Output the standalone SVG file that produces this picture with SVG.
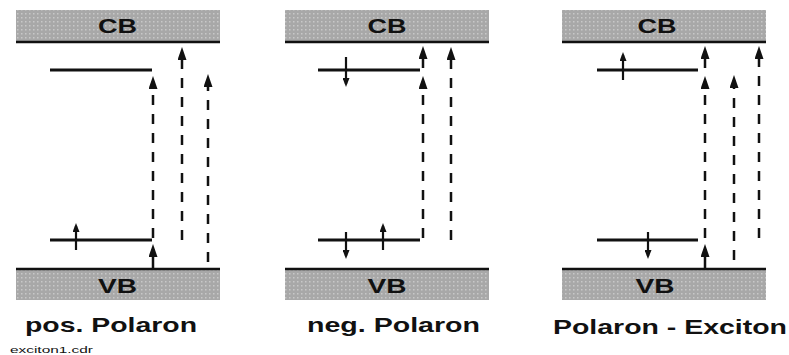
<svg xmlns="http://www.w3.org/2000/svg" width="789" height="355" viewBox="0 0 789 355">
<style>
.band{fill:url(#dots)}
.edge{stroke:#111;stroke-width:2.5}
.lvl{stroke:#111;stroke-width:3;fill:none}
.dash{stroke:#111;stroke-width:2.5;stroke-dasharray:10 9;fill:none;marker-end:url(#ah)}
.sol{stroke:#111;stroke-width:2.5;fill:none;marker-end:url(#ah)}
.spin{stroke:#111;stroke-width:2.2;fill:none;marker-end:url(#sh)}
.bl{font-family:"Liberation Sans",Arial,sans-serif;font-weight:bold;font-size:20px;fill:#111;text-anchor:middle}
.cap{font-family:"Liberation Sans",Arial,sans-serif;font-weight:bold;font-size:21px;fill:#111}
.sm{font-family:"Liberation Sans",Arial,sans-serif;font-size:9px;fill:#111}
</style>
<defs>
<pattern id="dots" width="4" height="4" patternUnits="userSpaceOnUse">
<rect width="4" height="4" fill="#a8a8a8"/>
<rect x="1" y="1" width="1.5" height="1.5" fill="#c8c8c8"/>
</pattern>
<marker id="ah" viewBox="0 0 13 9" refX="8" refY="4.5" markerWidth="13" markerHeight="9" markerUnits="userSpaceOnUse" orient="auto">
<path d="M0,0 L13,4.5 L0,9 Z" fill="#111"/>
</marker>
<marker id="sh" viewBox="0 0 9 7" refX="6" refY="3.5" markerWidth="9" markerHeight="7" markerUnits="userSpaceOnUse" orient="auto">
<path d="M0,0 L9,3.5 L0,7 Z" fill="#111"/>
</marker>
</defs>
<rect width="789" height="355" fill="#fff"/>

<g id="p1-cb"><rect class="band" x="16" y="10" width="204" height="31"/><line class="edge" x1="16" y1="42" x2="220" y2="42"/><text class="bl" x="117.5" y="33" textLength="39" lengthAdjust="spacingAndGlyphs">CB</text></g>
<g id="p1-vb"><rect class="band" x="16" y="270" width="204" height="30"/><line class="edge" x1="16" y1="269" x2="220" y2="269"/><text class="bl" x="117.5" y="293" textLength="39" lengthAdjust="spacingAndGlyphs">VB</text></g>
<g id="p1-up"><line class="lvl" x1="50" y1="70" x2="152" y2="70"/></g>
<g id="p1-low"><line class="lvl" x1="50" y1="240" x2="152" y2="240"/></g>
<g id="p1-label"><text class="cap" x="25" y="332" textLength="172" lengthAdjust="spacingAndGlyphs">pos. Polaron</text></g>

<g id="p2-cb"><rect class="band" x="285" y="10" width="204" height="31"/><line class="edge" x1="285" y1="42" x2="489" y2="42"/><text class="bl" x="387" y="33" textLength="39" lengthAdjust="spacingAndGlyphs">CB</text></g>
<g id="p2-vb"><rect class="band" x="285" y="270" width="204" height="30"/><line class="edge" x1="285" y1="269" x2="489" y2="269"/><text class="bl" x="387" y="293" textLength="39" lengthAdjust="spacingAndGlyphs">VB</text></g>
<g id="p2-up"><line class="lvl" x1="318" y1="70" x2="420" y2="70"/></g>
<g id="p2-low"><line class="lvl" x1="318" y1="240" x2="420" y2="240"/></g>
<g id="p2-label"><text class="cap" x="307" y="332" textLength="173" lengthAdjust="spacingAndGlyphs">neg. Polaron</text></g>

<g id="p3-cb"><rect class="band" x="562" y="10" width="204" height="31"/><line class="edge" x1="562" y1="42" x2="766" y2="42"/><text class="bl" x="657" y="33" textLength="39" lengthAdjust="spacingAndGlyphs">CB</text></g>
<g id="p3-vb"><rect class="band" x="562" y="270" width="204" height="30"/><line class="edge" x1="562" y1="269" x2="766" y2="269"/><text class="bl" x="655" y="293" textLength="39" lengthAdjust="spacingAndGlyphs">VB</text></g>
<g id="p3-up"><line class="lvl" x1="597" y1="70" x2="698" y2="70"/></g>
<g id="p3-low"><line class="lvl" x1="597" y1="240" x2="698" y2="240"/></g>
<g id="p3-label"><text class="cap" x="553" y="334" textLength="234" lengthAdjust="spacingAndGlyphs">Polaron - Exciton</text></g>

<g id="file-label"><text class="sm" x="10" y="353" textLength="83" lengthAdjust="spacingAndGlyphs">exciton1.cdr</text></g>

<g id="connectors">
<path class="dash" d="M153,238 V81"/>
<path class="sol" d="M153,269 V249"/>
<path class="dash" d="M182,240 V52"/>
<path class="dash" d="M208,262 V79"/>
<path class="spin" d="M76,250 V226"/>

<path class="spin" d="M346,57 V84"/>
<path class="sol" d="M423,68 V51"/>
<path class="dash" d="M423,238 V81"/>
<path class="dash" d="M451,240 V52"/>
<path class="spin" d="M346,232 V256"/>
<path class="spin" d="M383,250 V226"/>

<path class="spin" d="M623,80 V55"/>
<path class="sol" d="M705,68 V51"/>
<path class="dash" d="M705,238 V81"/>
<path class="sol" d="M705,269 V249"/>
<path class="dash" d="M734,260 V80"/>
<path class="dash" d="M759,238 V51"/>
<path class="spin" d="M648,232 V256"/>
</g>
</svg>
